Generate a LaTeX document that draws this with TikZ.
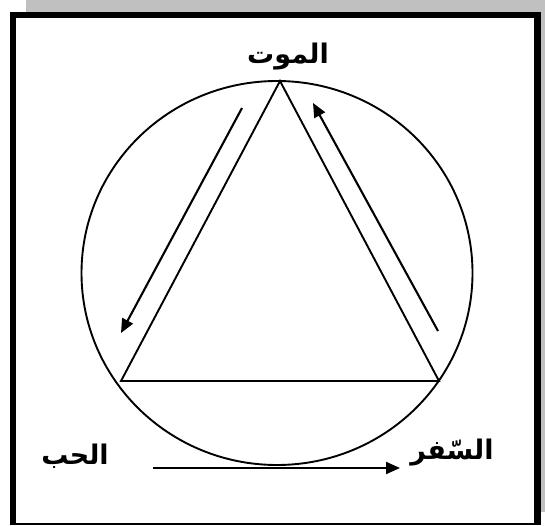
\documentclass[tikz,border=0pt]{standalone}
\usepackage{fontspec}
\TeXXeTstate=1
\newfontfamily\arabicfont[Script=Arabic]{DejaVu Sans}
\usetikzlibrary{arrows.meta}
\definecolor{shadowgray}{HTML}{C0C0C0}
\tikzset{
  lbl/.style={font=\arabicfont\bfseries\fontsize{27}{32}\selectfont, inner sep=0pt, anchor=center},
  shape line/.style={line width=1.9pt},
  flowarrow/.style={line width=2.1pt, -{Triangle[length=14pt,width=12pt]}},
}
\begin{document}
\begin{tikzpicture}[x=1pt,y=-1pt]
\useasboundingbox (0,0) rectangle (545,526);
% shadow
\fill[shadowgray] (26,0) rectangle (545,512);
% frame
\fill[black] (10,12) rectangle (540.5,525);
\fill[white] (16,18.5) rectangle (534,523.3);
% circle
\draw[shape line] (277,273) ellipse [x radius=195.5, y radius=192];
% triangle
\coordinate (top) at (280,81);
\coordinate (bl) at (121,381);
\coordinate (br) at (439,381);
\draw[shape line, line join=miter] (top) -- (bl) -- (br) -- cycle;
% arrows
\coordinate (a1s) at (242,108);
\coordinate (a1e) at (121,333);
\coordinate (a2s) at (438,331);
\coordinate (a2e) at (313,103);
\coordinate (a3s) at (153,468);
\coordinate (a3e) at (400,468);
\draw[flowarrow] (a1s) -- (a1e);
\draw[flowarrow] (a2s) -- (a2e);
\draw[flowarrow] (a3s) -- (a3e);
% labels
\node[lbl] (death) at (288,57) {\beginR الموت\endR};
\node[lbl] (love) at (75,456) {\beginR الحب\endR};
\node[lbl] (travel) at (452,453) {\beginR السّفر\endR};
\end{tikzpicture}
\end{document}
